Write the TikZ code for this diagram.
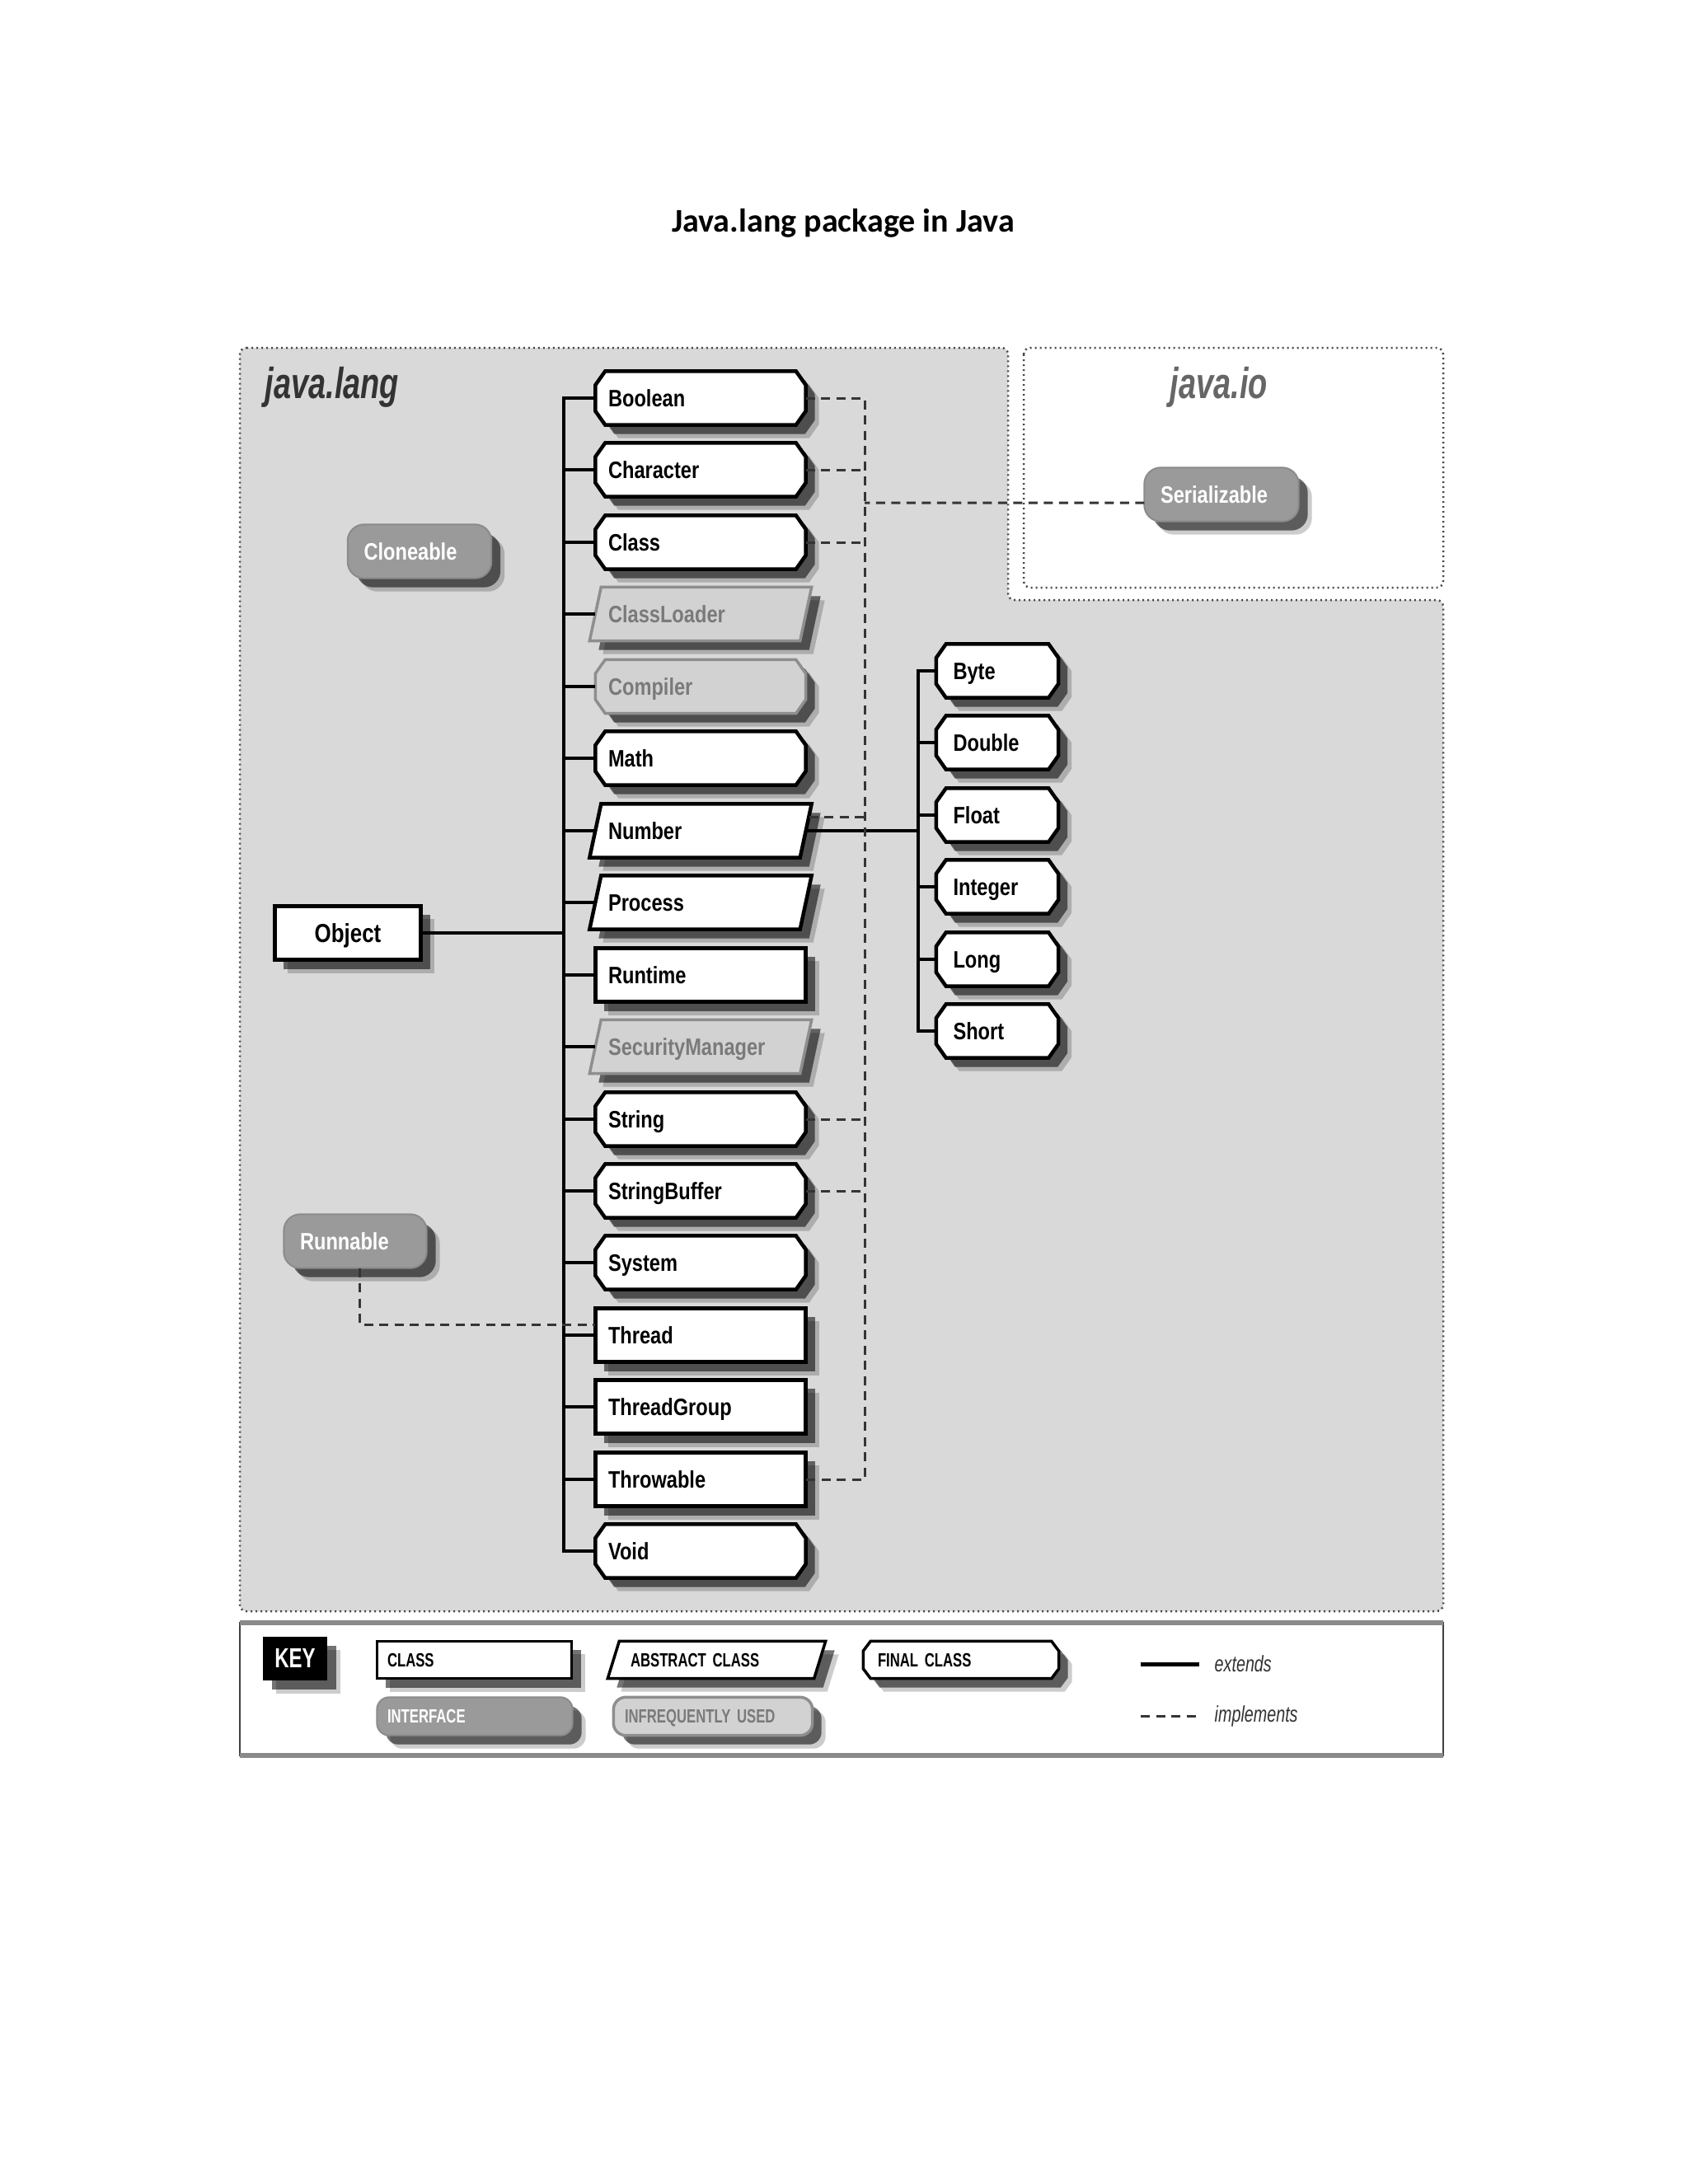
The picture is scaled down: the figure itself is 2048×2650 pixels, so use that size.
\documentclass[tikz,border=0pt]{standalone}
\usepackage{fontspec}
\setmainfont{Liberation Sans}
\newfontfamily\titlefont{Carlito}
\newfontfamily\boxfont[FakeStretch=0.82]{Liberation Sans}
\newfontfamily\keyfont[FakeStretch=0.72]{Liberation Sans}
\newfontfamily\pkgfont[FakeStretch=0.72]{Liberation Sans}
\usetikzlibrary{calc,shadows}
\pgfdeclarelayer{back}
\pgfdeclarelayer{shapes}
\pgfsetlayers{back,shapes,main}
\definecolor{langbg}{HTML}{D9D9D9}
\definecolor{ifill}{HTML}{9A9A9A}
\definecolor{rfill}{HTML}{D2D2D2}
\definecolor{rdraw}{HTML}{8E8E8E}
\definecolor{rtext}{HTML}{7A7A7A}
\definecolor{dotc}{HTML}{4A4A4A}
\definecolor{dashc}{HTML}{353535}
\definecolor{keyline}{HTML}{8A8A8A}

\tikzset{
  shad/.style={drop shadow={shadow xshift=1.6mm, shadow yshift=-1.6mm, fill=black, opacity=0.2},
               drop shadow={shadow xshift=1.1mm, shadow yshift=-1.1mm, fill=black, opacity=0.55}},
  cls/.style={draw=black, line width=0.45mm, fill=white, shad},
  rare/.style={draw=rdraw, line width=0.35mm, fill=rfill, shad},
  intf/.style={draw=ifill!90!black, line width=0.2mm, fill=ifill, shad},
  kcls/.style={draw=black, line width=0.35mm, fill=white, shad},
  tb/.style={rectangle, inner ysep=0pt, text height=5.9pt, text depth=0pt, align=left,
             font=\boxfont\bfseries\fontsize{8.2}{9}\selectfont},
  colbox/.style={tb, minimum width=25.4mm, minimum height=6.4mm, inner xsep=1.5mm, text width=22.4mm},
  subbox/.style={tb, minimum width=14.7mm, minimum height=6.4mm, inner xsep=2mm, text width=10.7mm},
  ibox/.style={tb, minimum height=6.4mm, inner xsep=1.9mm, text=white},
  keytb/.style={rectangle, inner ysep=0pt, text height=4.6pt, text depth=0pt, align=left,
             minimum height=4.4mm, font=\keyfont\bfseries\fontsize{6.6}{8}\selectfont},
  ext/.style={draw=black, line width=0.45mm},
  impl/.style={draw=dashc, line width=0.3mm, dash pattern=on 1.1mm off 0.75mm},
  dotb/.style={draw=dotc, line width=0.25mm, dash pattern=on 0.2mm off 0.4mm},
  pkg/.style={inner sep=0pt, font=\pkgfont\bfseries\itshape\fontsize{15}{18}\selectfont},
  legtxt/.style={inner xsep=1.8mm, inner ysep=0pt, font=\keyfont\itshape\fontsize{7.8}{9}\selectfont, text=black!80},
}

\newcommand\finalshape[4]{\begin{pgfonlayer}{shapes}\path[#2] ($(#1.north west)+(#3,0)$) -- ($(#1.north east)+(-#3,0)$) -- ($(#1.north east)+(0,#4)$) -- ($(#1.south east)+(0,-#4)$) -- ($(#1.south east)+(-#3,0)$) -- ($(#1.south west)+(#3,0)$) -- ($(#1.south west)+(0,-#4)$) -- ($(#1.north west)+(0,#4)$) -- cycle;\end{pgfonlayer}}
\newcommand\absshape[3]{\begin{pgfonlayer}{shapes}\path[#2] ($(#1.north west)+(#3,0)$) -- ($(#1.north east)+(#3,0)$) -- ($(#1.south east)+(-#3,0)$) -- ($(#1.south west)+(-#3,0)$) -- cycle;\end{pgfonlayer}}
\newcommand\rectshape[2]{\begin{pgfonlayer}{shapes}\path[#2] (#1.north west) rectangle (#1.south east);\end{pgfonlayer}}
\newcommand\roundshape[3]{\begin{pgfonlayer}{shapes}\path[#2, rounded corners=#3] (#1.north west) rectangle (#1.south east);\end{pgfonlayer}}

\begin{document}
\begin{tikzpicture}[x=0.1mm,y=-0.1mm]
\useasboundingbox (0,0) rectangle (2048,2650);
\begin{pgfonlayer}{back}
\fill[white] (0,0) rectangle (2048,2650);
\fill[langbg, rounded corners=0.8mm] (291,422) -- (1223,422) -- (1223,728) -- (1751,728) -- (1751,1955) -- (291,1955) -- cycle;
\draw[dotb, rounded corners=0.8mm] (291,422) -- (1223,422) -- (1223,728) -- (1751,728) -- (1751,1955) -- (291,1955) -- cycle;
\draw[dotb, rounded corners=0.8mm] (1242,422) rectangle (1751,713);
\fill[white] (291,1969) rectangle (1751,2130);
\draw[draw=black!75, line width=0.25mm] (291,1969) rectangle (1751,2130);
\draw[keyline, line width=0.6mm] (291,1969) -- (1751,1969);
\draw[keyline, line width=0.6mm] (291,2130) -- (1751,2130);
\end{pgfonlayer}

% title and package labels
\node[anchor=base, inner sep=0pt, font=\titlefont\bfseries\fontsize{11.4}{13}\selectfont] (title) at (1023,281) {Java.lang package in Java};
\node[pkg, anchor=base west, text=black!80] (langlbl) at (321,483) {java.lang};
\node[pkg, anchor=base, text=black!60] (iolbl) at (1479,483) {java.io};

% main column
\node[colbox] (Boolean) at (850,483) {Boolean};
\node[colbox] (Character) at (850,570) {Character};
\node[colbox] (Class) at (850,658) {Class};
\node[colbox, text=rtext] (ClassLoader) at (850,745) {ClassLoader};
\node[colbox, text=rtext] (Compiler) at (850,833) {Compiler};
\node[colbox] (Math) at (850,920) {Math};
\node[colbox] (Number) at (850,1008) {Number};
\node[colbox] (Process) at (850,1095) {Process};
\node[colbox] (Runtime) at (850,1183) {Runtime};
\node[colbox, text=rtext] (SecurityManager) at (850,1270) {SecurityManager};
\node[colbox] (String) at (850,1358) {String};
\node[colbox] (StringBuffer) at (850,1445) {StringBuffer};
\node[colbox] (System) at (850,1532) {System};
\node[colbox] (Thread) at (850,1620) {Thread};
\node[colbox] (ThreadGroup) at (850,1707) {ThreadGroup};
\node[colbox] (Throwable) at (850,1795) {Throwable};
\node[colbox] (Void) at (850,1882) {Void};

\finalshape{Boolean}{cls}{12}{17}
\finalshape{Character}{cls}{12}{17}
\finalshape{Class}{cls}{12}{17}
\absshape{ClassLoader}{rare}{7}
\finalshape{Compiler}{rare}{12}{17}
\finalshape{Math}{cls}{12}{17}
\absshape{Number}{cls}{7}
\absshape{Process}{cls}{7}
\rectshape{Runtime}{cls}
\absshape{SecurityManager}{rare}{7}
\finalshape{String}{cls}{12}{17}
\finalshape{StringBuffer}{cls}{12}{17}
\finalshape{System}{cls}{12}{17}
\rectshape{Thread}{cls}
\rectshape{ThreadGroup}{cls}
\rectshape{Throwable}{cls}
\finalshape{Void}{cls}{12}{17}

% Number subclasses
\node[subbox] (Byte) at (1210,814) {Byte};
\node[subbox] (Double) at (1210,901) {Double};
\node[subbox] (Float) at (1210,989) {Float};
\node[subbox] (Integer) at (1210,1076) {Integer};
\node[subbox] (Long) at (1210,1164) {Long};
\node[subbox] (Short) at (1210,1251) {Short};
\foreach \n in {Byte,Double,Float,Integer,Long,Short}{\finalshape{\n}{cls}{12}{17}}

% Object
\node[tb, align=center, minimum width=17.6mm, minimum height=6.4mm, inner xsep=1mm, text width=15.6mm,
      font=\boxfont\bfseries\fontsize{9}{10}\selectfont, text height=6.4pt] (Object) at (422,1132) {Object};
\rectshape{Object}{cls}

% interfaces
\node[ibox, minimum width=17.3mm, text width=13.5mm] (Cloneable) at (509,669) {Cloneable};
\roundshape{Cloneable}{intf}{2mm}
\node[ibox, minimum width=17.2mm, text width=13.4mm] (Runnable) at (431,1506) {Runnable};
\roundshape{Runnable}{intf}{2mm}
\node[ibox, minimum width=18.6mm, text width=14.8mm] (Serializable) at (1482,600) {Serializable};
\roundshape{Serializable}{intf}{2mm}

% extends connectors
\coordinate (trunk) at (684,1132);
\draw[ext] (Object.east) -- (trunk);
\foreach \n in {Boolean,Character,Class,ClassLoader,Compiler,Math,Number,Process,Runtime,SecurityManager,String,StringBuffer,System,Thread,ThreadGroup,Throwable,Void}{
  \draw[ext] (trunk) |- (\n.west);
}
\coordinate (ntrunk) at (1114,1008);
\draw[ext] (Number.east) -- (ntrunk);
\foreach \n in {Byte,Double,Float,Integer,Long,Short}{
  \draw[ext] (ntrunk) |- (\n.west);
}

% implements connectors
\coordinate (itrunk) at (1049,610);
\draw[impl] ([yshift=-1mm]Serializable.west) -- (itrunk);
\draw[impl] (Boolean.east) -- (Boolean.east -| itrunk) -- (Throwable.east -| itrunk) -- (Throwable.east);
\foreach \n in {Character,Class,String,StringBuffer}{
  \draw[impl] (\n.east) -- (\n.east -| itrunk);
}
\draw[impl] ([xshift=0.4mm,yshift=1.7mm]Number.east) -- ([yshift=1.7mm]Number.east -| itrunk);
\draw[impl] ([xshift=0.5mm]Runnable.south) |- ([yshift=1.3mm]Thread.west);

% key
\node[fill=black, text=white, minimum width=7.8mm, minimum height=5.3mm, inner sep=0pt, shad,
      font=\keyfont\bfseries\fontsize{9.5}{11}\selectfont] (keylbl) at (358,2012) {KEY};
\node[keytb, minimum width=23.5mm, inner xsep=1.2mm, text width=21.1mm] (kclass) at (575.5,2014) {CLASS};
\rectshape{kclass}{kcls}
\node[keytb, minimum width=24.9mm, inner xsep=2mm, text width=20.9mm] (kabs) at (869.5,2014) {ABSTRACT CLASS};
\absshape{kabs}{kcls}{7}
\node[keytb, minimum width=23.6mm, inner xsep=1.7mm, text width=20.2mm] (kfinal) at (1166,2014) {FINAL CLASS};
\finalshape{kfinal}{kcls}{9}{12}
\node[keytb, minimum width=23.6mm, minimum height=4.5mm, inner xsep=1.2mm, text width=21.2mm, text=white] (kintf) at (576,2082.5) {INTERFACE};
\roundshape{kintf}{intf}{1.5mm}
\node[keytb, minimum width=24mm, minimum height=4.5mm, inner xsep=1.3mm, text width=21.4mm, text=rtext] (krare) at (865,2082.5) {INFREQUENTLY USED};
\roundshape{krare}{rare}{1.5mm}

\coordinate (extA) at (1384,2019);
\node[legtxt, anchor=west] (extlbl) at (1455,2019) {extends};
\draw[ext, line width=0.5mm] (extA) -- (extlbl.west);
\coordinate (impA) at (1384,2082);
\node[legtxt, anchor=west] (implbl) at (1455,2082) {implements};
\draw[impl] (impA) -- (implbl.west);
\end{tikzpicture}
\end{document}
